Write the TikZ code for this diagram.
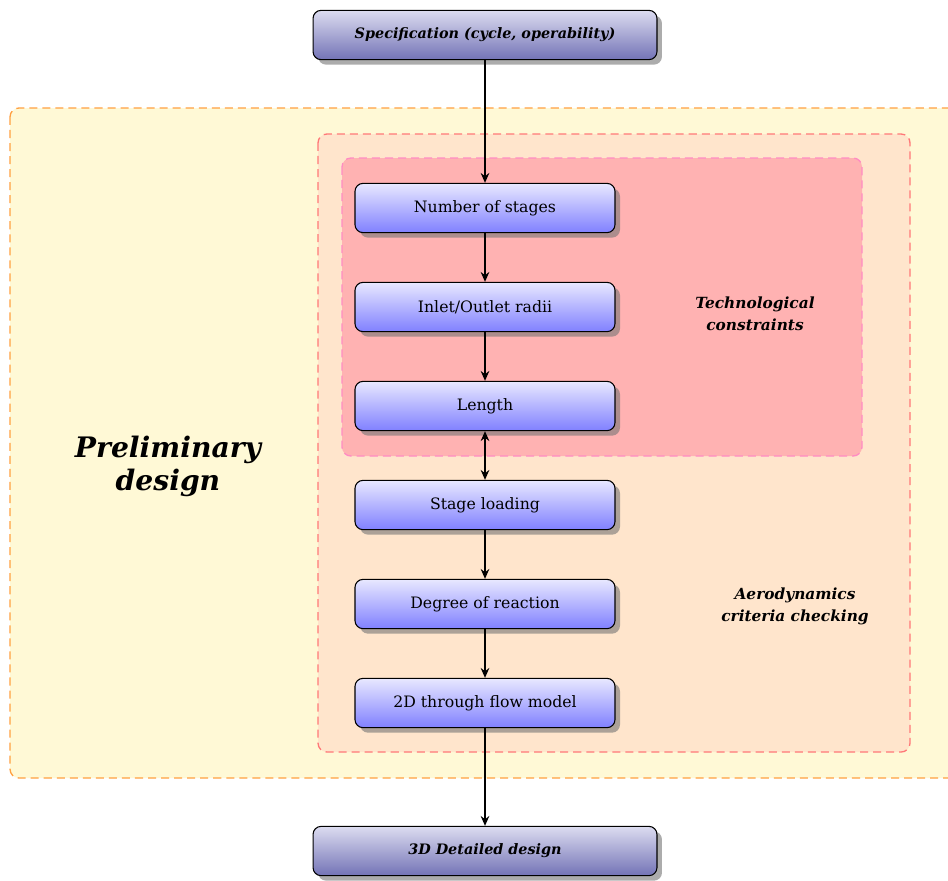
\documentclass[tikz,border=0pt]{standalone}
\usepackage{fontspec}
\setmainfont{DejaVu Serif}
\usetikzlibrary{shadows,arrows.meta}
\definecolor{yelfill}{RGB}{255,249,214}
\definecolor{yelborder}{RGB}{255,160,64}
\definecolor{peachfill}{RGB}{255,229,204}
\definecolor{peachborder}{RGB}{255,120,120}
\definecolor{pinkfill}{RGB}{255,178,178}
\definecolor{pinkborder}{RGB}{255,140,195}
\definecolor{boxtop}{RGB}{232,232,255}
\definecolor{boxbot}{RGB}{128,128,255}
\definecolor{spectop}{RGB}{220,220,240}
\definecolor{specbot}{RGB}{115,115,182}
\tikzset{
  stepbox/.style={draw=black, line width=0.6pt, rounded corners=4.5pt,
    top color=boxtop, bottom color=boxbot,
    minimum width=145.6pt, minimum height=27.6pt, inner sep=0pt,
    font=\fontsize{8.8}{11}\selectfont,
    drop shadow={shadow xshift=2.8pt, shadow yshift=-2.8pt, fill=black!54, opacity=0.6}},
  endbox/.style={stepbox, top color=spectop, bottom color=specbot,
    minimum width=192.6pt, font=\fontsize{8.05}{11}\selectfont\bfseries\itshape},
  region/.style={dash pattern=on 4.5pt off 2.8pt, line width=0.75pt, rounded corners=5pt},
  flow/.style={-{Stealth[length=5.5pt,width=4.8pt]}, line width=1.1pt},
  lbl/.style={align=center, font=\fontsize{8.6}{12.3}\selectfont\bfseries\itshape}
}
\begin{document}
\begin{tikzpicture}[x=0.56pt, y=-0.56pt]
\useasboundingbox (0,0) rectangle (948,880);
% regions
\begin{scope}
\clip (0,0) rectangle (948,880);
\draw[region, draw=yelborder, fill=yelfill] (10,108) rectangle (1000,778);
\end{scope}
\draw[region, draw=peachborder, fill=peachfill] (318,134) rectangle (910,752);
\draw[region, draw=pinkborder, fill=pinkfill] (342,158) rectangle (862,456);
% labels
\node[lbl, font=\fontsize{15.8}{18.5}\selectfont\bfseries\itshape] (prelim) at (168,466) {Preliminary\\design};
\node[lbl] (tech) at (755,314) {Technological\\constraints};
\node[lbl] (aero) at (795,606) {Aerodynamics\\criteria checking};
% boxes
\node[endbox] (spec) at (485,35) {Specification (cycle, operability)};
\node[stepbox] (n1) at (485,208) {Number of stages};
\node[stepbox] (n2) at (485,307) {Inlet/Outlet radii};
\node[stepbox] (n3) at (485,406) {Length};
\node[stepbox] (n4) at (485,505) {Stage loading};
\node[stepbox] (n5) at (485,604) {Degree of reaction};
\node[stepbox] (n6) at (485,703) {2D through flow model};
\node[endbox] (det) at (485,851) {3D Detailed design};
% arrows
\draw[flow] (spec) -- (n1);
\draw[flow] (n1) -- (n2);
\draw[flow] (n2) -- (n3);
\draw[flow, {Stealth[length=5.5pt,width=4.8pt]}-{Stealth[length=5.5pt,width=4.8pt]}] (n3) -- (n4);
\draw[flow] (n4) -- (n5);
\draw[flow] (n5) -- (n6);
\draw[flow] (n6) -- (det);
\end{tikzpicture}
\end{document}
